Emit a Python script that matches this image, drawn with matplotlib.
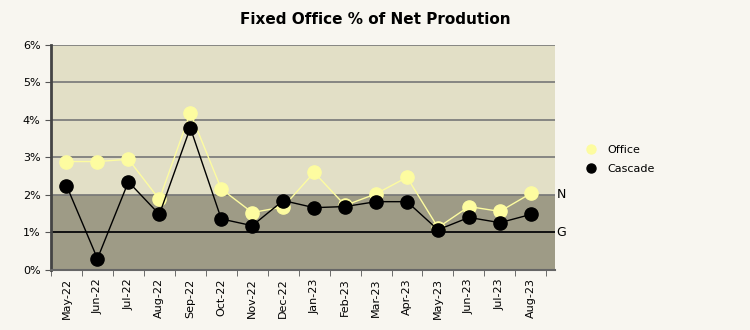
import matplotlib.pyplot as plt
from matplotlib.lines import Line2D
from matplotlib.ticker import PercentFormatter

months = ['May-22', 'Jun-22', 'Jul-22', 'Aug-22', 'Sep-22', 'Oct-22', 'Nov-22', 'Dec-22',
          'Jan-23', 'Feb-23', 'Mar-23', 'Apr-23', 'May-23', 'Jun-23', 'Jul-23', 'Aug-23']
office = [2.89, 2.89, 2.95, 1.88, 4.19, 2.16, 1.53, 1.68, 2.60, 1.72, 2.03, 2.47, 1.13, 1.69, 1.56, 2.04]
cascade = [2.25, 0.30, 2.35, 1.48, 3.79, 1.36, 1.18, 1.85, 1.66, 1.69, 1.82, 1.82, 1.07, 1.40, 1.26, 1.48]
target_n = 2.0
target_g = 1.0

bg = '#f8f6f0'
yellow = '#fdfca0'
fig = plt.figure(figsize=(7.5, 3.3), dpi=100, facecolor=bg)
ax = fig.add_axes([0.068, 0.182, 0.672, 0.682])
ax.set_facecolor(bg)

x = list(range(len(months)))
xmin, xmax = -0.5, len(months) - 0.22

# shaded bands above and below the N target
ax.axhspan(target_n, 6, color='#e2dfc6', zorder=0)
ax.axhspan(0, target_n, color='#9e9b86', zorder=0)
for y in range(1, 7):
    ax.axhline(y, color='#777777', lw=1.2, zorder=1)
ax.axhline(target_g, color='black', lw=1.2, zorder=1)

ax.plot(x, office, color=yellow, lw=1, marker='o', ms=9.5, zorder=3)
ax.plot(x, cascade, color='black', lw=1, marker='o', ms=9.5, zorder=4)

ax.set_xlim(xmin, xmax)
ax.set_ylim(0, 6)
ax.yaxis.set_major_formatter(PercentFormatter(decimals=0))
ax.set_yticks(range(0, 7))
ax.set_xticks(x)
ax.set_xticklabels(months, rotation=90, fontsize=8)
ax.set_xticks([i - 0.5 for i in range(len(months) + 1)], minor=True)
ax.tick_params(axis='x', which='major', length=0, pad=6)
ax.tick_params(axis='x', which='minor', length=4, color='#555555')
ax.tick_params(axis='y', labelsize=8, length=4, color='#555555')

for s in ['top', 'right']:
    ax.spines[s].set_visible(False)
ax.spines['left'].set_color('#444444')
ax.spines['left'].set_linewidth(2)
ax.spines['bottom'].set_color('#666666')
ax.spines['bottom'].set_linewidth(1.5)

ax.text(xmax + 0.05, target_n, 'N', va='center', ha='left', fontsize=9)
ax.text(xmax + 0.05, target_g, 'G', va='center', ha='left', fontsize=9)

fig.text(0.5, 0.94, 'Fixed Office % of Net Prodution', ha='center', va='center',
         fontsize=11, fontweight='semibold')

# legend shows markers only
handles = [Line2D([], [], ls='none', marker='o', ms=6.5, color=yellow),
           Line2D([], [], ls='none', marker='o', ms=6.5, color='black')]
ax.legend(handles, ['Office', 'Cascade'], loc='upper left', bbox_to_anchor=(1.04, 0.60),
          frameon=False, fontsize=8, handlelength=1, handletextpad=1.0, labelspacing=0.85)

fig.savefig('out.png', dpi=100, facecolor=bg)
